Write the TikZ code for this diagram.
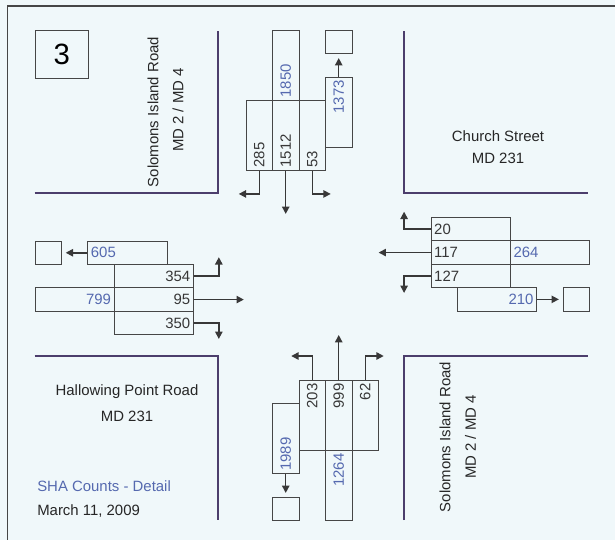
\documentclass[tikz,border=0pt]{standalone}
\usepackage{fontspec}
\setmainfont{Liberation Sans}
\usetikzlibrary{arrows.meta,calc,positioning}
\definecolor{bgpaper}{RGB}{240,248,250}
\definecolor{roadline}{RGB}{76,62,108}
\definecolor{cellline}{RGB}{70,70,70}
\definecolor{numdark}{RGB}{55,55,55}
\definecolor{numblue}{RGB}{85,105,175}

\begin{document}
\begin{tikzpicture}[
    x=0.75pt,y=-0.75pt,
    cell/.style={draw=cellline,line width=0.7pt,inner sep=0pt,anchor=north west},
    vcell/.style={cell,minimum width=19.9pt,minimum height=52.5pt},
    hcell/.style={cell,minimum width=59.4pt,minimum height=17.55pt},
    sqcell/.style={cell,minimum width=19.9pt,minimum height=17.55pt},
    num/.style={font=\fontsize{11.2}{13}\selectfont,text=numdark,inner sep=2.5pt},
    bnum/.style={num,text=numblue},
    street/.style={font=\fontsize{11.2}{13}\selectfont,text=black!85,inner sep=0pt},
    road/.style={roadline,line width=2.1pt},
    arrow/.style={-{Triangle[length=5.5pt,width=5.5pt]},line width=1.1pt,black!78},
    feed/.style={arrow,shorten >=2.8pt}
]
\fill[bgpaper] (0,0) rectangle (615,540);
\useasboundingbox (0,0) rectangle (615,540);
\draw[cellline,line width=1pt] (615,6) -- (7.5,6) -- (7.5,540);

% Intersection number
\node[cell,minimum width=39.4pt,minimum height=35.8pt,font=\fontsize{22}{26}\selectfont] (panel) at (35,30) {3};

% Kerb lines
\draw[road] (34.5,193) -- (218,193) -- (218,31);
\draw[road] (404,31) -- (404,193) -- (588,193);
\draw[road] (34.5,356) -- (218,356) -- (218,520);
\draw[road] (404,520) -- (404,356) -- (588,356);

% Street names
\node[street,rotate=90] (solN) at (153,112) {Solomons Island Road};
\node[street,rotate=90] (mdN) at (178,110) {MD 2 / MD 4};
\node[street] (church) at (498,136) {Church Street};
\node[street] (mdE) at (498,158) {MD 231};
\node[street] (hallow) at (127,392) {Hallowing Point Road};
\node[street] (mdW) at (127,416) {MD 231};
\node[street,rotate=90] (solS) at (445,437) {Solomons Island Road};
\node[street,rotate=90] (mdS) at (470.6,437) {MD 2 / MD 4};
\node[street,text=numblue,anchor=west] (sha) at (37,486) {SHA Counts - Detail};
\node[street,anchor=west] (date) at (37,511) {March 11, 2009};

% North approach
\node[vcell] (n1850) at (272,30) {};
\node[vcell] (n285) at (245.5,100) {};
\node[vcell] (n1512) at (272,100) {};
\node[vcell] (n53) at (298.5,100) {};
\node[vcell] (n1373) at (325,76.7) {};
\node[sqcell] (nsq) at (325,30) {};
\node[bnum,rotate=90,anchor=west] (l1850) at (n1850.south) {1850};
\node[num,rotate=90,anchor=west] (l285) at (n285.south) {285};
\node[num,rotate=90,anchor=west] (l1512) at (n1512.south) {1512};
\node[num,rotate=90,anchor=west] (l53) at (n53.south) {53};
\node[bnum,rotate=90,anchor=east] (l1373) at (n1373.north) {1373};
\draw[arrow] (n285.south) -- ++(0,23) -- ++(-20.5,0);
\draw[arrow] (n1512.south) -- ++(0,43);
\draw[arrow] (n53.south) -- ++(0,23) -- ++(18.5,0);
\draw[feed] (n1373.north) -- (nsq.south);

% South approach
\node[vcell] (s1989) at (272,403.3) {};
\node[vcell] (s203) at (298.5,380) {};
\node[vcell] (s999) at (325,380) {};
\node[vcell] (s62) at (351.5,380) {};
\node[vcell] (s1264) at (325,450) {};
\node[sqcell] (ssq) at (272,496.7) {};
\node[num,rotate=90,anchor=east] (l203) at (s203.north) {203};
\node[num,rotate=90,anchor=east] (l999) at (s999.north) {999};
\node[num,rotate=90,anchor=east] (l62) at (s62.north) {62};
\node[bnum,rotate=90,anchor=west] (l1989) at (s1989.south) {1989};
\node[bnum,rotate=90,anchor=east] (l1264) at (s1264.north) {1264};
\draw[arrow] (s203.north) -- ++(0,-24) -- ++(-21,0);
\draw[arrow] (s999.north) -- ++(0,-45);
\draw[arrow] (s62.north) -- ++(0,-24) -- ++(18.5,0);
\draw[feed] (s1989.south) -- (ssq.north);

% West approach
\node[sqcell] (wsq) at (34.5,240.6) {};
\node[hcell] (w605) at (87.3,240.6) {};
\node[hcell] (w354) at (113.7,264) {};
\node[hcell] (w95) at (113.7,287.4) {};
\node[hcell] (w350) at (113.7,310.8) {};
\node[hcell] (w799) at (34.5,287.4) {};
\node[bnum,anchor=west] (l605) at (w605.west) {605};
\node[num,anchor=east] (l354) at (w354.east) {354};
\node[num,anchor=east] (l95) at (w95.east) {95};
\node[num,anchor=east] (l350) at (w350.east) {350};
\node[bnum,anchor=east] (l799) at (w799.east) {799};
\draw[arrow] (w354.east) -- ++(25,0) -- ++(0,-19);
\draw[arrow] (w95.east) -- ++(50,0);
\draw[arrow] (w350.east) -- ++(25,0) -- ++(0,16);
\draw[feed] (w605.west) -- (wsq.east);

% East approach
\node[hcell] (e20) at (430.6,217) {};
\node[hcell] (e117) at (430.6,240.4) {};
\node[hcell] (e127) at (430.6,263.8) {};
\node[hcell] (e264) at (510,240.4) {};
\node[hcell] (e210) at (457,287.2) {};
\node[sqcell] (esq) at (562.6,287.2) {};
\node[num,anchor=west] (l20) at (e20.west) {20};
\node[num,anchor=west] (l117) at (e117.west) {117};
\node[num,anchor=west] (l127) at (e127.west) {127};
\node[bnum,anchor=west] (l264) at (e264.west) {264};
\node[bnum,anchor=east] (l210) at (e210.east) {210};
\draw[arrow] (e20.west) -- ++(-26.5,0) -- ++(0,-17.5);
\draw[arrow] (e117.west) -- ++(-52,0);
\draw[arrow] (e127.west) -- ++(-26.5,0) -- ++(0,17);
\draw[feed] (e210.east) -- (esq.west);
\end{tikzpicture}
\end{document}
